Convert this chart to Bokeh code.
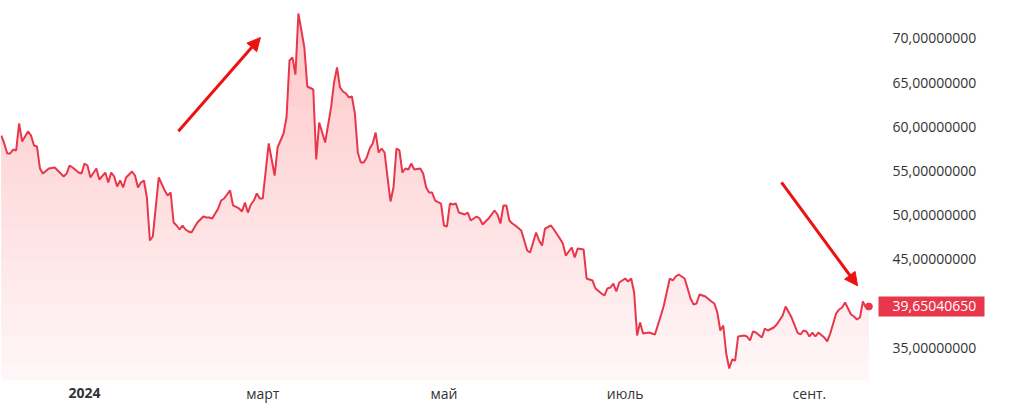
import numpy as np
import pandas as pd
from bokeh.plotting import figure
from bokeh.models import Range1d, Arrow, NormalHead
from bokeh.core.properties import value
from bokeh.embed import file_html
from bokeh.resources import INLINE

# ---------------- data ----------------
START = pd.Timestamp("2024-01-01")

# day offsets from 2024-01-01 and the price
day_offsets = [
    -28, -27, -26, -25, -24, -23, -22, -21, -19, -18, -17, -16, -15, -14, -12, -10,
    -8, -7, -6, -5, -4, -2, -1, 0, 1, 2, 4, 5, 7, 8, 9, 10, 11, 12, 13, 14, 16, 17,
    18, 19, 20, 21, 22, 23, 25, 27, 28, 29, 30, 31, 32, 33, 34, 35, 36, 38, 40, 41,
    42, 43, 45, 46, 47, 49, 50, 52, 53, 54, 55, 56, 57, 58, 59, 60, 62, 64, 65, 67,
    68, 69, 70, 71, 72, 74, 75, 77, 78, 79, 81, 83, 84, 85, 86, 87, 88, 89, 90, 91,
    92, 93, 94, 95, 96, 97, 98, 99, 100, 101, 102, 103, 104, 105, 106, 107, 108, 109,
    110, 111, 113, 114, 115, 116, 117, 118, 120, 121, 122, 123, 124, 125, 126, 128,
    129, 130, 132, 133, 134, 136, 138, 139, 140, 141, 142, 143, 144, 145, 147, 149,
    150, 152, 153, 154, 155, 157, 158, 160, 161, 162, 164, 165, 166, 168, 169, 171,
    172, 174, 175, 176, 177, 178, 179, 180, 182, 183, 184, 185, 186, 187, 188, 190,
    192, 194, 195, 197, 198, 199, 200, 202, 203, 204, 205, 206, 207, 209, 211, 212,
    213, 214, 215, 216, 217, 218, 219, 220, 222, 223, 224, 225, 226, 228, 229, 230,
    232, 233, 235, 236, 238, 240, 241, 242, 243, 244, 245, 246, 247, 249, 250, 251,
    253, 254, 255, 256, 258, 259, 260, 261, 262, 263, 264,
]
prices = [
    59.01, 58.11, 56.98, 56.98, 57.43, 57.32, 60.37, 58.34, 59.47, 59.01, 57.88, 57.77,
    55.28, 54.71, 55.28, 55.39, 54.71, 54.37, 54.71, 55.62, 55.39, 54.82, 54.71, 55.84,
    55.62, 54.26, 55.28, 54.03, 54.82, 53.69, 54.82, 54.37, 53.24, 53.92, 53.13, 54.26,
    54.94, 54.48, 53.13, 53.69, 53.92, 51.99, 47.12, 47.58, 54.26, 52.79, 52.22, 52.56,
    49.16, 48.82, 48.37, 48.82, 48.37, 48.14, 48.03, 49.16, 49.84, 49.73, 49.73, 49.61,
    50.75, 51.65, 51.88, 52.79, 51.09, 50.75, 50.41, 51.43, 50.29, 51.20, 51.65, 52.45,
    51.88, 51.88, 58.11, 54.48, 57.66, 59.24, 61.05, 67.51, 67.85, 65.92, 72.83, 68.98,
    64.56, 64.22, 56.30, 60.49, 58.22, 62.19, 65.02, 66.72, 64.45, 64.00, 63.77, 63.32,
    63.43, 61.51, 57.09, 55.96, 55.96, 56.52, 57.54, 58.11, 59.35, 57.09, 57.54, 57.09,
    54.26, 51.54, 53.13, 57.54, 57.32, 54.82, 55.28, 55.16, 55.84, 55.16, 55.28, 54.71,
    53.13, 52.56, 52.56, 51.65, 51.31, 48.82, 48.71, 51.31, 51.20, 51.31, 50.29, 50.07,
    50.29, 49.39, 49.84, 49.61, 48.94, 49.61, 50.52, 50.07, 49.05, 51.09, 51.09, 49.39,
    49.05, 48.82, 48.26, 45.99, 45.76, 48.03, 47.12, 46.56, 48.48, 48.82, 48.37, 47.35,
    46.78, 45.42, 46.33, 45.20, 46.22, 46.10, 42.82, 42.59, 41.69, 41.12, 40.89, 41.69,
    41.80, 42.25, 41.35, 42.37, 42.82, 42.48, 42.82, 41.23, 36.36, 37.84, 36.59, 36.70,
    36.48, 38.63, 39.76, 42.82, 42.59, 43.05, 43.27, 42.82, 41.69, 40.55, 39.88, 39.99,
    41.01, 40.78, 40.22, 39.99, 38.97, 36.93, 37.50, 34.33, 32.63, 33.65, 33.53, 36.25,
    36.36, 36.25, 35.80, 36.82, 36.70, 36.14, 37.16, 36.93, 37.27, 37.61, 38.63, 39.65,
    38.40, 36.70, 36.48, 36.93, 36.82, 36.25, 36.70, 36.25, 36.70, 36.14, 35.69, 36.59,
    38.86, 39.31, 39.54, 40.10, 38.74, 38.52, 38.18, 38.40, 40.22, 39.54, 39.65,
]

x_tick_dates = ["2024-01-01", "2024-03-01", "2024-05-01", "2024-07-01", "2024-09-01"]
x_tick_labels = ["2024", "март", "май", "июль", "сент."]
x_tick_bold = [True, False, False, False, False]
y_ticks = [35, 40, 45, 50, 55, 60, 65, 70]
y_tick_labels = [f"{v:.8f}".replace(".", ",") for v in y_ticks]
last_price_text = "39,65040650"

# annotation arrows: (day offset, value) start -> end
arrow_up = ((31.6, 59.5), (59.2, 70.1))
arrow_down = ((234.6, 53.7), (260.2, 42.0))

# ---------------- styling / layout ----------------
LINE = "#e8364b"
FILL = "#e8364b"
ARROW = "#ee1111"
TEXT = "#333333"
FONT = "Open Sans"

def day(d):
    return START + pd.Timedelta(days=d)

def ms(ts):
    return pd.Timestamp(ts).value / 1e6

dates = START + pd.to_timedelta(day_offsets, unit="D")
price_arr = np.array(prices)

# scale: ~2.971 px per day, ~8.83 px per unit; canvas is 1024x414
X0, X1 = -28.27, 316.39          # days at left / right canvas edge
Y0, Y1 = 27.42, 74.30            # values at bottom / top canvas edge
FILL_BASE = 31.27                # bottom of the shaded area
LABEL_Y = 29.80                  # centre of the date labels
LABEL_X_DAY = 271.96             # left edge of the price labels
TAG_X_DAY = 285.09               # centre of the last-price tag

p = figure(width=1024, height=414, x_axis_type="datetime",
           x_axis_location=None, y_axis_location=None,
           x_range=Range1d(ms(day(X0)), ms(day(X1))), y_range=Range1d(Y0, Y1),
           output_backend="svg", toolbar_location=None, tools="")
p.min_border = 0
p.outline_line_color = None
p.grid.visible = False
p.background_fill_color = "white"
p.border_fill_color = "white"

# gradient area: stacked translucent bands (stronger toward the top)
p.varea(x=dates, y1=FILL_BASE, y2=price_arr, fill_color=FILL, fill_alpha=0.045)
for L in np.linspace(FILL_BASE, Y1, 26)[1:-1]:
    p.varea(x=dates, y1=L, y2=np.maximum(price_arr, L), fill_color=FILL, fill_alpha=0.011)

p.line(x=dates, y=price_arr, line_color=LINE, line_width=2)
p.scatter(x=[dates[-1]], y=[prices[-1]], size=7, color=LINE)

# value labels on the right
p.text(x=[day(LABEL_X_DAY)] * len(y_ticks), y=y_ticks, text=y_tick_labels,
       text_font=value(FONT), text_font_size=value("14px"), text_color=TEXT,
       text_align="left", text_baseline="middle")

# date labels at the bottom
for d, lab, bold in zip(x_tick_dates, x_tick_labels, x_tick_bold):
    p.text(x=[pd.Timestamp(d)], y=[LABEL_Y], text=[lab],
           text_font=value(FONT), text_font_size=value("14px"), text_color=TEXT,
           text_font_style="bold" if bold else "normal",
           text_align="center", text_baseline="middle")

# last price tag
p.rect(x=[day(TAG_X_DAY)], y=[prices[-1]], width=106, height=20,
       width_units="screen", height_units="screen",
       fill_color=LINE, line_color=None)
p.text(x=[day(LABEL_X_DAY)], y=[prices[-1]], text=[last_price_text],
       text_font=value(FONT), text_font_size=value("14px"), text_color="white",
       text_align="left", text_baseline="middle")

for (s, e) in (arrow_up, arrow_down):
    p.add_layout(Arrow(x_start=ms(day(s[0])), y_start=s[1], x_end=ms(day(e[0])), y_end=e[1],
                       line_color=ARROW, line_width=3,
                       end=NormalHead(size=13, fill_color=ARROW, line_color=ARROW, line_width=1)))

open("out.html", "w").write(file_html(p, INLINE))
